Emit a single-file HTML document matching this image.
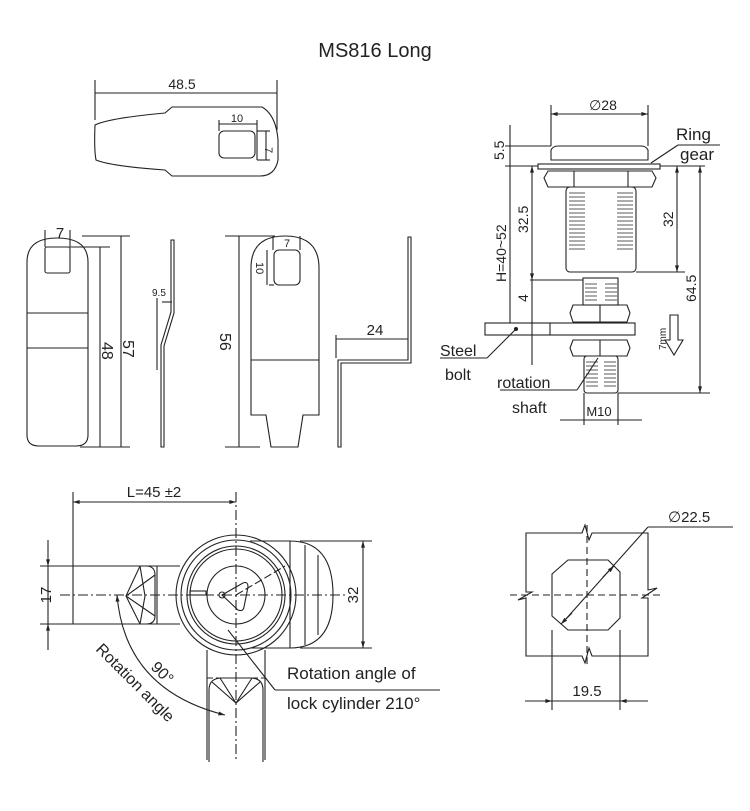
<!DOCTYPE html>
<html><head><meta charset="utf-8"><style>
html,body{margin:0;padding:0;background:#fff;}
svg{display:block;font-family:"Liberation Sans",sans-serif;}
</style></head><body>
<svg width="750" height="811" viewBox="0 0 750 811" xmlns="http://www.w3.org/2000/svg">
<defs>
<marker id="a" viewBox="0 0 10 10" refX="10" refY="5" markerWidth="8" markerHeight="6" orient="auto-start-reverse"><path d="M0,2 L10,5 L0,8 z" fill="#222"/></marker>
</defs>
<g fill="none" stroke="#222" stroke-width="1.1">
<text x="375" y="57" font-size="20" fill="#222" stroke="none" text-anchor="middle">MS816 Long</text>

<!-- top cam -->
<line x1="95" y1="80" x2="95" y2="120"/><line x1="277" y1="80" x2="277" y2="130"/>
<line x1="95" y1="93" x2="277" y2="93"/>
<text x="182" y="89" font-size="14" fill="#222" stroke="none" text-anchor="middle">48.5</text>
<path d="M95,125 Q110,118 165,113 L172,107 L262,107 Q276,115 278,140 L278,160 Q275,176 260,176 L172,176 L165,170 Q110,166 96,160 Q94,150 95,125 z"/>
<rect x="219" y="131" width="36" height="27" rx="5"/>
<line x1="219" y1="120" x2="219" y2="131"/><line x1="257" y1="120" x2="257" y2="160"/>
<line x1="219" y1="124" x2="257" y2="124"/>
<line x1="257" y1="131" x2="270" y2="131"/><line x1="257" y1="160" x2="270" y2="160"/>
<line x1="266" y1="131" x2="266" y2="160"/>
<text x="237" y="122" font-size="11" fill="#222" stroke="none" text-anchor="middle">10</text>
<text x="265" y="147" font-size="11" fill="#222" stroke="none" transform="rotate(90 265 147)">7</text>

<!-- left cam 1 -->
<path d="M27,262 Q27,238 57,238 Q88,238 88,262 L88,435 Q88,446 76,446 L39,446 Q27,446 27,435 z"/>
<rect x="45" y="247" width="25" height="26" rx="2"/>
<line x1="27" y1="313" x2="88" y2="313"/><line x1="27" y1="348" x2="88" y2="348"/>
<line x1="45" y1="230" x2="45" y2="247"/><line x1="70" y1="230" x2="70" y2="247"/>
<text x="60" y="238" font-size="15" fill="#222" stroke="none" text-anchor="middle">7</text>
<line x1="70" y1="247" x2="110" y2="247"/><line x1="82" y1="236" x2="130" y2="236"/>
<line x1="100" y1="247" x2="100" y2="447"/><line x1="121" y1="236" x2="121" y2="447"/>
<line x1="80" y1="447" x2="130" y2="447"/>
<text x="102" y="342" font-size="16" fill="#222" stroke="none" transform="rotate(90 102 342)">48</text>
<text x="123" y="340" font-size="16" fill="#222" stroke="none" transform="rotate(90 123 340)">57</text>
<!-- side 1 -->
<path d="M171,240 L171,312 L161,345 L161,447 L164,447 L164,346 L174,313 L174,240 z"/>
<line x1="157" y1="298" x2="157" y2="370"/><line x1="162" y1="302" x2="172" y2="302"/>
<text x="152" y="296" font-size="10" fill="#222" stroke="none">9.5</text>

<!-- cam 2 -->
<path d="M251,268 Q251,236 285,236 Q319,236 319,268 L319,415 L303,415 L298,447 L271,447 L266,415 L251,415 z"/>
<rect x="274" y="250" width="26" height="35" rx="5"/>
<line x1="251" y1="360" x2="319" y2="360"/>
<line x1="273" y1="236" x2="273" y2="250"/><line x1="300" y1="236" x2="300" y2="250"/>
<line x1="269" y1="285" x2="274" y2="285"/><line x1="267" y1="250" x2="267" y2="285"/>
<text x="287" y="247" font-size="11" fill="#222" stroke="none" text-anchor="middle">7</text>
<text x="256" y="262" font-size="11" fill="#222" stroke="none" transform="rotate(90 256 262)">10</text>
<line x1="225" y1="236" x2="275" y2="236"/><line x1="239" y1="236" x2="239" y2="447"/>
<line x1="225" y1="447" x2="260" y2="447"/>
<text x="220" y="333" font-size="16" fill="#222" stroke="none" transform="rotate(90 220 333)">56</text>
<!-- side 2 -->
<path d="M408,237 L408,360 L338,360 L338,447 L341,447 L341,363 L411,363 L411,237 z"/>
<line x1="336" y1="335" x2="336" y2="358"/><line x1="336" y1="339" x2="408" y2="339"/>
<text x="375" y="335" font-size="15" fill="#222" stroke="none" text-anchor="middle">24</text>

<!-- right assembly -->
<line x1="551" y1="105" x2="551" y2="146"/><line x1="648" y1="105" x2="648" y2="146"/>
<line x1="551" y1="114" x2="648" y2="114" marker-start="url(#a)" marker-end="url(#a)"/>
<text x="603" y="110" font-size="14" fill="#222" stroke="none" text-anchor="middle">∅28</text>
<path d="M551,160 L551,150 Q553,146 558,146 L641,146 Q646,146 648,150 L648,160 z"/>
<rect x="538" y="164" width="122" height="5"/>
<path d="M548,171 L652,171 L656,178 L652,187 L548,187 L544,178 z"/><line x1="574" y1="171" x2="574" y2="187"/><line x1="628" y1="171" x2="628" y2="187"/>
<rect x="566" y="187" width="70" height="85" rx="4"/>
<g stroke-width="0.7"><path d="M569,193 L585,193 M569,197 L585,197 M569,201 L585,201 M569,205 L585,205 M569,209 L585,209 M569,213 L585,213 M569,217 L585,217 M569,221 L585,221 M569,225 L585,225 M569,229 L585,229 M569,233 L585,233 M569,237 L585,237 M569,241 L585,241 M569,245 L585,245 M569,249 L585,249 M617,193 L633,193 M617,197 L633,197 M617,201 L633,201 M617,205 L633,205 M617,209 L633,209 M617,213 L633,213 M617,217 L633,217 M617,221 L633,221 M617,225 L633,225 M617,229 L633,229 M617,233 L633,233 M617,237 L633,237 M617,241 L633,241 M617,245 L633,245 M617,249 L633,249"/></g>
<rect x="583" y="278" width="35" height="27"/>
<g stroke-width="0.7"><path d="M585,284 L597,284 M585,288 L597,288 M585,292 L597,292 M585,296 L597,296 M585,300 L597,300 M605,284 L617,284 M605,288 L617,288 M605,292 L617,292 M605,296 L617,296 M605,300 L617,300 M586,362 L598,362 M586,366 L598,366 M586,370 L598,370 M586,374 L598,374 M586,378 L598,378 M586,382 L598,382 M586,386 L598,386 M604,362 L616,362 M604,366 L616,366 M604,370 L616,370 M604,374 L616,374 M604,378 L616,378 M604,382 L616,382 M604,386 L616,386"/></g>
<path d="M573,305 L627,305 L630,313 L627,322 L573,322 L570,313 z"/><line x1="600" y1="305" x2="600" y2="322"/>
<rect x="485" y="323" width="150" height="12"/><line x1="550" y1="323" x2="550" y2="335"/>
<path d="M573,340 L627,340 L630,348 L627,356 L573,356 L570,348 z"/><line x1="600" y1="340" x2="600" y2="356"/>
<rect x="584" y="356" width="34" height="37" rx="3"/>
<line x1="505" y1="146" x2="551" y2="146"/><line x1="505" y1="166" x2="538" y2="166"/>
<line x1="510" y1="125" x2="510" y2="323"/>
<line x1="530" y1="280" x2="583" y2="280"/>
<line x1="532" y1="166" x2="532" y2="280" marker-start="url(#a)" marker-end="url(#a)"/>
<line x1="532" y1="280" x2="532" y2="365"/>
<line x1="636" y1="272" x2="685" y2="272"/><line x1="660" y1="166" x2="705" y2="166"/>
<line x1="677" y1="166" x2="677" y2="272" marker-start="url(#a)" marker-end="url(#a)"/>
<line x1="618" y1="393" x2="710" y2="393"/>
<line x1="700" y1="166" x2="700" y2="393" marker-start="url(#a)" marker-end="url(#a)"/>
<line x1="584" y1="393" x2="584" y2="425"/><line x1="618" y1="393" x2="618" y2="425"/>
<line x1="560" y1="420" x2="642" y2="420"/>
<text x="599" y="416" font-size="13" fill="#222" stroke="none" text-anchor="middle">M10</text>
<text x="504" y="160" font-size="14" fill="#222" stroke="none" transform="rotate(-90 504 160)">5.5</text>
<text x="506" y="282" font-size="14" fill="#222" stroke="none" transform="rotate(-90 506 282)">H=40~52</text>
<text x="528" y="233" font-size="14" fill="#222" stroke="none" transform="rotate(-90 528 233)">32.5</text>
<text x="528" y="302" font-size="14" fill="#222" stroke="none" transform="rotate(-90 528 302)">4</text>
<text x="673" y="227" font-size="14" fill="#222" stroke="none" transform="rotate(-90 673 227)">32</text>
<text x="696" y="302" font-size="14" fill="#222" stroke="none" transform="rotate(-90 696 302)">64.5</text>
<line x1="651" y1="163" x2="678" y2="145"/><line x1="678" y1="145" x2="720" y2="145"/>
<text x="676" y="140" font-size="17" fill="#222" stroke="none">Ring</text>
<text x="680" y="160" font-size="17" fill="#222" stroke="none">gear</text>
<path d="M670,315 L678,315 L678,340 L683,340 L674,355 L665,340 L670,340 z"/>
<text x="666" y="350" font-size="10" fill="#222" stroke="none" transform="rotate(-90 666 350)">7mm</text>
<circle cx="516" cy="329" r="1.5" fill="#222"/>
<line x1="516" y1="329" x2="487" y2="358"/><line x1="487" y1="358" x2="440" y2="358"/>
<text x="440" y="356" font-size="16" fill="#222" stroke="none">Steel</text>
<text x="445" y="380" font-size="16" fill="#222" stroke="none">bolt</text>
<line x1="598" y1="358" x2="577" y2="390"/><line x1="577" y1="390" x2="500" y2="390"/>
<text x="497" y="388" font-size="16" fill="#222" stroke="none">rotation</text>
<text x="512" y="413" font-size="16" fill="#222" stroke="none">shaft</text>

<!-- bottom left -->
<line x1="73" y1="492" x2="73" y2="566"/><line x1="236" y1="492" x2="236" y2="760" stroke-dasharray="10,3,2,3"/>
<line x1="73" y1="502" x2="236" y2="502" marker-start="url(#a)" marker-end="url(#a)"/>
<text x="154" y="497" font-size="15" fill="#222" stroke="none" text-anchor="middle">L=45 ±2</text>
<path d="M180,566 L73,566 L73,624 L180,624"/>
<line x1="157" y1="566" x2="157" y2="624"/>
<path d="M146,566 Q155,566 155,575 L155,616 Q155,624 146,624 L140,624 L126,596 L140,566 z"/>
<path d="M126,596 L155,575 M126,596 L155,616 M140,566 L145,596 L140,624"/>
<path d="M250,541 L290,541 M290,541 Q333,541 333,595 Q333,648 290,648 L250,648"/>
<line x1="290" y1="541" x2="290" y2="648"/><line x1="305" y1="545" x2="305" y2="645"/><line x1="318" y1="555" x2="318" y2="635"/>
<circle cx="236" cy="595" r="60"/><circle cx="236" cy="595" r="55"/>
<circle cx="236" cy="595" r="49"/><circle cx="236" cy="595" r="46"/>
<circle cx="236" cy="595" r="29"/>
<path d="M222,595 L243,583 Q248,581 248,587 L244,607 Q243,612 238,610 z"/>
<circle cx="222" cy="595" r="3"/>
<line x1="60" y1="595" x2="345" y2="595" stroke-dasharray="10,3,2,3"/>
<line x1="236" y1="595" x2="285" y2="566" stroke-dasharray="8,3"/>
<rect x="190" y="591" width="16" height="4"/>
<line x1="40" y1="566" x2="73" y2="566"/><line x1="40" y1="624" x2="73" y2="624"/>
<line x1="48" y1="540" x2="48" y2="566" marker-end="url(#a)"/><line x1="48" y1="650" x2="48" y2="624" marker-end="url(#a)"/>
<line x1="48" y1="566" x2="48" y2="624"/>
<text x="44" y="602" font-size="15" fill="#222" stroke="none" transform="rotate(-90 44 595)" text-anchor="middle">17</text>
<line x1="300" y1="541" x2="372" y2="541"/><line x1="300" y1="648" x2="372" y2="648"/>
<line x1="363" y1="541" x2="363" y2="648" marker-start="url(#a)" marker-end="url(#a)"/>
<text x="358" y="595" font-size="15" fill="#222" stroke="none" transform="rotate(-90 358 595)" text-anchor="middle">32</text>
<path d="M207,650 L207,760 M265,650 L265,760"/>
<line x1="207" y1="678" x2="265" y2="678" stroke-dasharray="6,3"/>
<path d="M209,762 L209,690 Q209,678 222,678 L250,678 Q263,678 263,690 L263,762"/>
<path d="M212,682 L236,703 L260,682 M220,678 L236,703 L252,678"/>
<path d="M117,595 Q125,690 225,715" marker-start="url(#a)" marker-end="url(#a)"/>
<text x="150" y="668" font-size="16" fill="#222" stroke="none" transform="rotate(45 150 668)">90°</text>
<text x="95" y="650" font-size="16" fill="#222" stroke="none" transform="rotate(45 95 650)">Rotation angle</text>
<line x1="228" y1="630" x2="275" y2="690"/><line x1="275" y1="690" x2="440" y2="690"/>
<text x="287" y="679" font-size="17" fill="#222" stroke="none">Rotation angle of</text>
<text x="287" y="709" font-size="17" fill="#222" stroke="none">lock cylinder 210°</text>

<!-- bottom right -->
<path d="M526,533 L582,533 L585,525 L589,540 L592,533 L648,533 L648,590 L657,588 L642,598 L648,598 L648,656 L592,656 L589,648 L585,663 L582,656 L526,656 L526,598 L518,600 L532,592 L526,592 z"/>
<path d="M568,560 L608,560 L620,572 L620,618 L608,630 L568,630 L552,616 L552,574 z"/>
<line x1="510" y1="595" x2="660" y2="595" stroke-dasharray="7,4"/>
<line x1="587" y1="525" x2="587" y2="665" stroke-dasharray="7,4"/>
<line x1="565" y1="620" x2="648" y2="527"/><line x1="648" y1="527" x2="733" y2="527"/>
<line x1="603" y1="577" x2="614" y2="566" marker-end="url(#a)"/><line x1="572" y1="613" x2="561" y2="624" marker-end="url(#a)"/>
<text x="668" y="522" font-size="15" fill="#222" stroke="none">∅22.5</text>
<line x1="552" y1="630" x2="552" y2="710"/><line x1="620" y1="630" x2="620" y2="710"/>
<line x1="525" y1="701" x2="552" y2="701" marker-end="url(#a)"/><line x1="648" y1="701" x2="620" y2="701" marker-end="url(#a)"/>
<line x1="552" y1="701" x2="620" y2="701"/>
<text x="587" y="696" font-size="15" fill="#222" stroke="none" text-anchor="middle">19.5</text>
</g>
</svg>
</body></html>
